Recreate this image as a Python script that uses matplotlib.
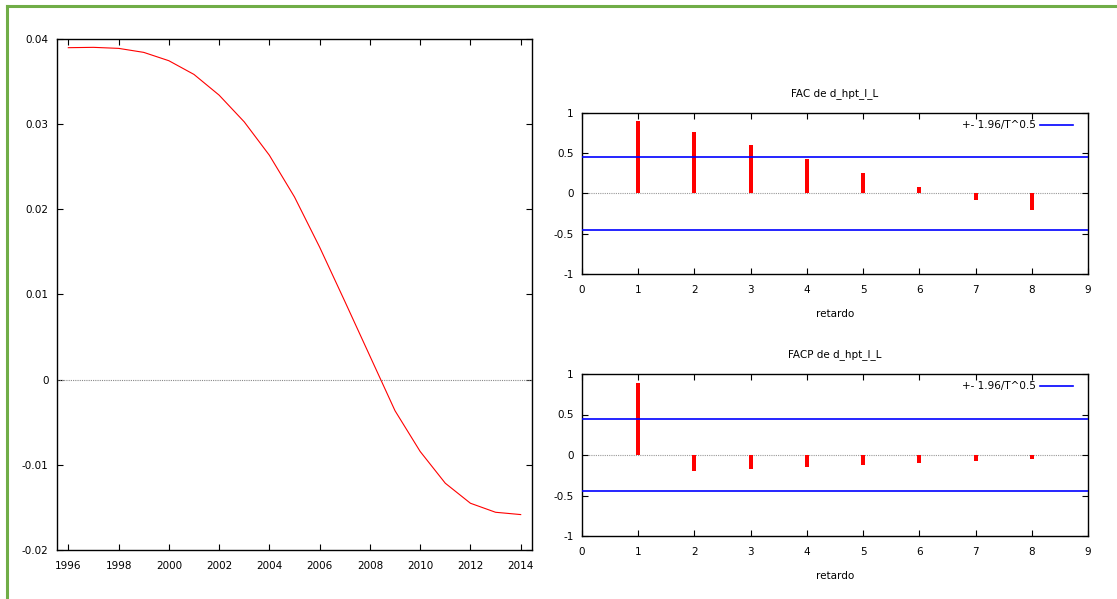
import matplotlib
matplotlib.use("Agg")
import matplotlib.pyplot as plt
from matplotlib.lines import Line2D
import numpy as np

plt.rcParams['font.family'] = ['DejaVu Sans']

# ---- data ----
years = list(range(1996, 2015))
trend = [0.03898, 0.03902, 0.03890, 0.03843, 0.03745, 0.03584, 0.03341, 0.03027,
         0.02635, 0.02145, 0.01556, 0.00921, 0.00278, -0.00365, -0.00843, -0.01216,
         -0.01451, -0.01557, -0.01584]
year_ticks = list(range(1996, 2015, 2))
y_ticks_left = [-0.02, -0.01, 0, 0.01, 0.02, 0.03, 0.04]
y_tick_labels_left = ["-0.02", "-0.01", "0", "0.01", "0.02", "0.03", "0.04"]

lags = [1, 2, 3, 4, 5, 6, 7, 8]
fac = [0.90, 0.765, 0.605, 0.43, 0.255, 0.08, -0.075, -0.21]
facp = [0.89, -0.196, -0.175, -0.15, -0.126, -0.098, -0.07, -0.049]
T = 19
bound = 1.96 / np.sqrt(T)
lag_ticks = list(range(0, 10))
acf_yticks = [-1, -0.5, 0, 0.5, 1]
acf_ytick_labels = ["-1", "-0.5", "0", "0.5", "1"]

FS = 7.5
W, H = 1117, 599
fig = plt.figure(figsize=(W / 100, H / 100), dpi=100)
fig.patch.set_facecolor("white")

def frac(x0, y0, x1, y1):
    return [x0 / W, 1 - y1 / H, (x1 - x0) / W, (y1 - y0) / H]

def style(ax):
    for s in ax.spines.values():
        s.set_linewidth(1.0)
        s.set_color("black")
    ax.tick_params(direction="in", top=True, right=True, length=4, width=0.8,
                   labelsize=FS, colors="black")
    ax.tick_params(axis="x", pad=8)
    ax.tick_params(axis="y", pad=6)

# ---- left: trend ----
ax = fig.add_axes(frac(57, 39, 532, 550))
ax.plot(years, trend, color="red", lw=0.8)
ax.axhline(0, color="#888888", lw=0.8, ls=(0, (1, 1)))
ax.set_xlim(1995.55, 2014.45)
ax.set_ylim(-0.02, 0.04)
ax.set_xticks(year_ticks)
ax.set_yticks(y_ticks_left)
ax.set_yticklabels(y_tick_labels_left)
style(ax)

# ---- right: ACF / PACF ----
def acf_panel(box, vals, title):
    a = fig.add_axes(frac(*box))
    a.axhline(0, color="#999999", lw=0.8, ls=(0, (1, 1)), zorder=1)
    a.bar(lags, vals, width=0.07, color="red", zorder=2)
    a.axhline(bound, color="#0000ff", lw=1.2, zorder=3, label="+- 1.96/T^0.5")
    a.axhline(-bound, color="#0000ff", lw=1.2, zorder=3)
    a.set_xlim(0, 9)
    a.set_ylim(-1, 1)
    a.set_xticks(lag_ticks)
    a.set_yticks(acf_yticks)
    a.set_yticklabels(acf_ytick_labels)
    style(a)
    a.set_title(title, fontsize=FS, pad=12)
    a.set_xlabel("retardo", fontsize=FS, labelpad=10)
    a.legend(loc="upper right", frameon=False, fontsize=FS,
             handlelength=3.2, handletextpad=0.4, markerfirst=False,
             bbox_to_anchor=(0.985, 1.0), borderaxespad=0.3)
    return a

acf_panel((582, 113, 1088, 274), fac, "FAC de d_hpt_l_L")
acf_panel((582, 374, 1088, 536), facp, "FACP de d_hpt_l_L")

# ---- green frame ----
green = "#70ad47"
fig.add_artist(Line2D([7 / W, 1], [1 - 6 / H, 1 - 6 / H], color=green, lw=2.2,
                      transform=fig.transFigure))
fig.add_artist(Line2D([7 / W, 7 / W], [0, 1 - 6 / H], color=green, lw=2.2,
                      transform=fig.transFigure))

fig.savefig("out.png", dpi=100)
